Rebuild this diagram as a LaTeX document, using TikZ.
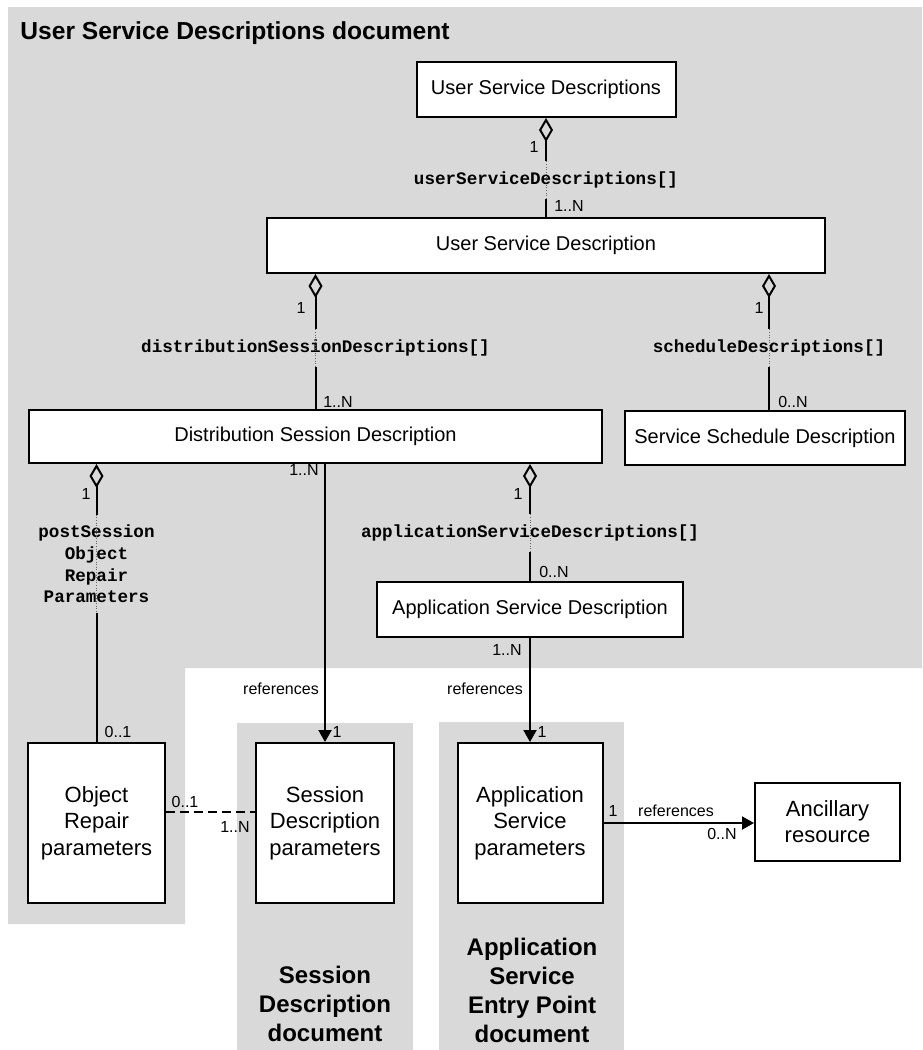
\documentclass[tikz,border=0pt]{standalone}
\usepackage{fontspec}
\setmainfont{Liberation Sans}
\setmonofont{Liberation Mono}
\usetikzlibrary{arrows.meta,calc}
\definecolor{docgray}{RGB}{217,217,217}

\tikzset{
  box/.style={draw, line width=1pt, fill=white, inner sep=2pt, align=center, font=\fontsize{10}{12}\selectfont},
  tallbox/.style={box, minimum width=#1, minimum height=80pt, font=\fontsize{11}{13.3}\selectfont},
  role/.style={font=\ttfamily\bfseries\fontsize{8.8}{10.8}\selectfont, inner xsep=0pt, inner ysep=5pt, align=center},
  mult/.style={font=\fontsize{8}{9.6}\selectfont, inner sep=0pt},
  doclabel/.style={font=\bfseries\fontsize{12}{14.5}\selectfont, align=center, inner sep=0pt},
  conn/.style={line width=1pt},
  agg/.style={conn, {Diamond[open, length=12pt, width=7pt]}-},
  refs/.style={conn, -{Triangle[length=6pt, width=6.5pt]}},
  gap/.style={line width=0.3pt, densely dotted, black!60},
}

\begin{document}
\begin{tikzpicture}[x=0.5pt, y=-0.5pt]
    \useasboundingbox (0,0) rectangle (922,1050);

    % document areas
    \fill[docgray] (8,7) -- (922,7) -- (922,668) -- (185,668) -- (185,924) -- (8,924) -- cycle;
    \fill[docgray] (237,723) rectangle (413,1050);
    \fill[docgray] (439,722) rectangle (624,1050);

    \node[doclabel, anchor=west, font=\bfseries\fontsize{12.3}{14.5}\selectfont] (tUsd) at (20,33) {User Service Descriptions document};
    \node[doclabel] (tSdp) at (325,1004) {Session\\Description\\document};
    \node[doclabel] (tAsp) at (532,990) {Application\\Service\\Entry Point\\document};

    % classes
    \node[box, minimum width=129.5pt, minimum height=27.5pt] (usds) at (546,89.5) {User Service Descriptions};
    \node[box, minimum width=279pt, minimum height=27.5pt] (usd) at (546,245.5) {User Service Description};
    \node[box, minimum width=286.5pt, minimum height=26.5pt] (dsd) at (315.5,436.5) {Distribution Session Description};
    \node[box, minimum width=140pt, minimum height=27pt] (ssd) at (765,438) {Service Schedule Description};
    \node[box, minimum width=153pt, minimum height=27.5pt] (asd) at (530,609.5) {Application Service Description};
    \node[tallbox=68.5pt] (orp) at (96.5,823) {Object\\Repair\\parameters};
    \node[tallbox=69pt] (sdp) at (325,823) {Session\\Description\\parameters};
    \node[tallbox=72.5pt] (asp) at (530,823) {Application\\Service\\parameters};
    \node[box, minimum width=72.5pt, minimum height=39pt, font=\fontsize{11}{13}\selectfont] (anc) at (827.5,822) {Ancillary\\resource};

    % role names
    \node[role] (rUsd) at (546,180) {userServiceDescriptions[]};
    \node[role] (rDsd) at (315.5,348) {distributionSessionDescriptions[]};
    \node[role] (rSched) at (769,348) {scheduleDescriptions[]};
    \node[role] (rPost) at (96.5,564) {postSession\\Object\\Repair\\Parameters};
    \node[role] (rApp) at (530,533) {applicationServiceDescriptions[]};

    % aggregations
    \draw[agg] (usds.south) -- (rUsd.north);
    \draw[conn] (rUsd.south) -- (usd.north);
    \draw[agg] (usd.south -| rDsd) -- (rDsd.north);
    \draw[conn] (rDsd.south) -- (dsd.north);
    \draw[agg] (usd.south -| rSched) -- (rSched.north);
    \draw[conn] (rSched.south) -- (rSched.south |- ssd.north);
    \draw[agg] (dsd.south -| rPost) -- (rPost.north);
    \draw[conn] (rPost.south) -- (orp.north);
    \draw[agg] (dsd.south -| rApp) -- (rApp.north);
    \draw[conn] (rApp.south) -- (asd.north);

    \foreach \r in {rUsd,rDsd,rSched,rPost,rApp}
        \draw[gap] (\r.north) -- (\r.south);

    % references
    \draw[refs] (dsd.south -| sdp.north) -- (sdp.north);
    \draw[refs] (asd.south) -- (asp.north);
    \draw[refs] (asp.east) -- (asp.east -| anc.west);
    \draw[conn, dash pattern=on 4.5pt off 2.5pt] ([yshift=5.5pt]orp.east) -- ([yshift=5.5pt]sdp.west);

    % multiplicities
    \foreach \nm/\x/\y/\txt in {m1/534/147/1, m2/569/206/1..N, m3/301/308/1, m4/759/308/1,
            m5/338/402/1..N, m6/793/402/0..N, m7/304/470/1..N, m8/86/494/1, m9/518/494/1,
            m10/554/572/0..N, m11/507/650/1..N, m12/118/732/0..1, m13/337/732/1, m14/542/732/1,
            m15/185/802/0..1, m16/235/827/1..N, m17/613/811/1, m18/722/834/0..N}
        \node[mult] (\nm) at (\x,\y) {\txt};

    \node[mult] (ref1) at (281,689) {references};
    \node[mult] (ref2) at (485,689) {references};
    \node[mult] (ref3) at (676,811) {references};

\end{tikzpicture}
\end{document}
